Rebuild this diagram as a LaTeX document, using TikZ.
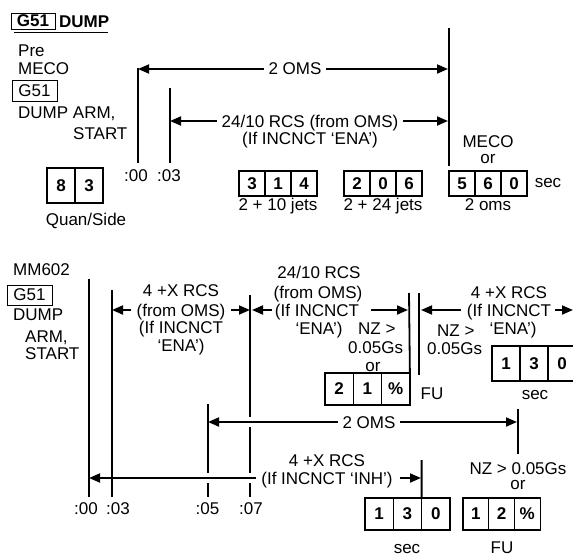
\documentclass[tikz,border=0pt]{standalone}
\usepackage{fontspec}
\setmainfont{Liberation Sans}
\usetikzlibrary{arrows.meta}
\begin{document}
\begin{tikzpicture}[x=1pt,y=-1pt,
  lbl/.style={font=\fontsize{17}{18}\selectfont, inner sep=0pt, anchor=base},
  lbll/.style={lbl, anchor=base west},
  vln/.style={line width=1.8pt},
  tip/.tip={Triangle[length=11pt,width=9pt]},
  arw/.style={line width=1.8pt, -tip},
  dbl/.style={line width=1.8pt, tip-tip},
  cellbox/.style={draw, line width=1.2pt, inner sep=0pt, outer sep=0pt, font=\fontsize{17}{18}\selectfont\bfseries},
  cA/.style={cellbox, minimum width=28pt, minimum height=35pt},
  cB/.style={cellbox, minimum width=26pt, minimum height=25pt},
  cC/.style={cellbox, minimum width=28.3pt, minimum height=32pt},
  cD/.style={cellbox, minimum width=25.7pt, minimum height=32pt},
  gbox/.style={draw, line width=1pt, inner sep=0pt, outer sep=0pt, font=\fontsize{17}{18}\selectfont},
]
\useasboundingbox (0,0) rectangle (573,557);

% ================= TOP PART =================
\node[gbox, font=\fontsize{17}{18}\selectfont\bfseries, minimum width=44pt, minimum height=16pt] (g1) at (33,21) {G51};
\node[lbll, font=\fontsize{17}{18}\selectfont\bfseries] (dump1) at (59,27) {DUMP};
\coordinate (ul1) at (14,32); \coordinate (ul2) at (108,32);
\draw[line width=1pt] (ul1) -- (ul2);
\node[lbll] (pre) at (18,56) {Pre};
\node[lbll] (meco1) at (18,74) {MECO};
\node[gbox, minimum width=45pt, minimum height=21pt] (g2) at (34.5,90.5) {G51};
\node[lbll] (dumparm) at (18,118) {DUMP ARM,};
\node[lbll] (start1) at (73,139) {START};

% vertical lines
\coordinate (t00a) at (138,68);  \coordinate (t00b) at (138,163);
\coordinate (t03a) at (170,88);  \coordinate (t03b) at (170,163);
\coordinate (tMa) at (449,28);   \coordinate (tMb) at (449,166);
\draw[vln] (t00a) -- (t00b);
\draw[vln] (t03a) -- (t03b);
\draw[vln] (tMa) -- (tMb);
\node[lbl] (l00) at (136,181) {:00};
\node[lbl] (l03) at (169,181) {:03};

% arrows
\coordinate (oA) at (138,69); \coordinate (oB) at (448,69);
\draw[dbl] (oA) -- (oB);
\node[lbl, anchor=center, fill=white, inner xsep=5pt, inner ysep=2pt] (oms1) at (295,69) {2 OMS};
\coordinate (rA) at (170,121); \coordinate (rB) at (448,121);
\draw[dbl] (rA) -- (rB);
\node[lbl, fill=white, inner xsep=5pt, inner ysep=1pt] (rcs1) at (310,127) {24/10 RCS (from OMS)};
\node[lbl] (ifena1) at (310,144) {(If INCNCT ‘ENA’)};

\node[lbl] (meco2) at (488,147) {MECO};
\node[lbl] (or1) at (488,163) {or};

% boxes
\node[cA, anchor=north west] (b83a) at (47,168) {8};
\node[cA, anchor=west] (b83b) at (b83a.east) {3};
\node[lbl] (quan) at (86,225) {Quan/Side};

\node[cB, anchor=north west] (b314a) at (239,171) {3};
\node[cB, anchor=west] (b314b) at (b314a.east) {1};
\node[cB, anchor=west] (b314c) at (b314b.east) {4};
\node[lbl] (j10) at (278,210) {2 + 10 jets};

\node[cB, anchor=north west] (b206a) at (344,171) {2};
\node[cB, anchor=west] (b206b) at (b206a.east) {0};
\node[cB, anchor=west] (b206c) at (b206b.east) {6};
\node[lbl] (j24) at (383,210) {2 + 24 jets};

\node[cB, anchor=north west] (b560a) at (449,171) {5};
\node[cB, anchor=west] (b560b) at (b560a.east) {6};
\node[cB, anchor=west] (b560c) at (b560b.east) {0};
\node[lbl] (oms2) at (488,210) {2 oms};
\node[lbl] (sec1) at (548,187.5) {sec};

% ================= BOTTOM PART =================
\node[lbll] (mm602) at (13,275) {MM602};
\node[lbll] (dump2) at (13,320) {DUMP};
\node[gbox, fill=white, minimum width=45pt, minimum height=20pt] (g3) at (29.5,295) {G51};
\node[lbll] (arm2) at (25,342) {ARM,};
\node[lbll] (start2) at (25,359) {START};

% vertical time lines
\coordinate (b00a) at (89,279);  \coordinate (b00b) at (89,497);
\coordinate (b03a) at (112,290); \coordinate (b03b) at (112,497);
\coordinate (b05a) at (208,404); \coordinate (b05g1) at (208,473); \coordinate (b05g2) at (208,483); \coordinate (b05b) at (208,497);
\coordinate (b07a) at (250,295); \coordinate (b07g1) at (250,417); \coordinate (b07g2) at (250,427);
\coordinate (b07g3) at (250,473); \coordinate (b07g4) at (250,483); \coordinate (b07b) at (250,497);
\draw[vln] (b00a) -- (b00b);
\draw[vln] (b03a) -- (b03b);
\draw[vln] (b05a) -- (b05g1) (b05g2) -- (b05b);
\draw[vln] (b07a) -- (b07g1) (b07g2) -- (b07g3) (b07g4) -- (b07b);
\node[lbl] (m00) at (86,514) {:00};
\node[lbl] (m03) at (118,514) {:03};
\node[lbl] (m05) at (207.5,514) {:05};
\node[lbl] (m07) at (251,514) {:07};

% 4 +X RCS (from OMS)
\node[lbl] (x1a) at (181,296) {4 +X RCS};
\node[lbl] (x1b) at (181,316) {(from OMS)};
\node[lbl] (x1c) at (181,333) {(If INCNCT};
\node[lbl] (x1d) at (181,351) {‘ENA’)};
\coordinate (x1L) at (131,310); \coordinate (x1Lt) at (112,310);
\coordinate (x1R) at (231,310); \coordinate (x1Rt) at (250,310);
\draw[arw] (x1L) -- (x1Lt);
\draw[arw] (x1R) -- (x1Rt);

% 24/10 RCS
\node[lbl] (y1a) at (319,278) {24/10 RCS};
\node[lbl] (y1b) at (318,298) {(from OMS)};
\node[lbl] (y1c) at (317,316) {(If INCNCT};
\node[lbl] (y1d) at (319,334) {‘ENA’)};
\coordinate (y1L) at (272,310); \coordinate (y1Lt) at (252,310);
\coordinate (y1R) at (371,310); \coordinate (y1Rt) at (408,310);
\draw[arw] (y1L) -- (y1Lt);
\draw[arw] (y1R) -- (y1Rt);

% double line
\coordinate (d1a) at (409,293); \coordinate (d2a) at (419,293); \coordinate (d2b) at (419,375);
\draw[vln] (d2a) -- (d2b);

% NZ left
\node[lbll] (nz1) at (358,334) {NZ >};
\node[lbll] (g005a) at (348,353) {0.05Gs};
\node[lbl] (or2) at (373,371.5) {or};

% 2 1 % box
\node[cC, anchor=north west] (p21a) at (325,373) {2};
\node[cC, anchor=west] (p21b) at (p21a.east) {1};
\node[cC, anchor=west] (p21c) at (p21b.east) {\%};
\draw[vln] (d1a) -- (p21c.north east);
\node[lbl] (fu1) at (432,399) {FU};

% NZ right
\node[lbll] (nz2) at (437,336) {NZ >};
\node[lbll] (g005b) at (427,354) {0.05Gs};

% 4 +X RCS right
\node[lbl] (z1a) at (509,298) {4 +X RCS};
\node[lbl] (z1b) at (509,316) {(If INCNCT};
\node[lbl] (z1c) at (513,334) {‘ENA’)};
\coordinate (z1L) at (461,310); \coordinate (z1Lt) at (421,310);
\coordinate (z1R) at (555,310); \coordinate (z1Rt) at (573,310);
\draw[arw] (z1L) -- (z1Lt);
\draw[arw] (z1R) -- (z1Rt);

% 1 3 0 right
\node[cA, anchor=north west] (r13a) at (492,346) {1};
\node[cA, anchor=west] (r13b) at (r13a.east) {3};
\node[cA, anchor=west] (r13c) at (r13b.east) {0};
\node[lbl] (sec2) at (535,399.5) {sec};

% 2 OMS bottom
\coordinate (o2L) at (208,422); \coordinate (o2R) at (517,422);
\draw[dbl] (o2L) -- (o2R);
\node[lbl, anchor=center, fill=white, inner xsep=5pt, inner ysep=2pt] (oms3) at (369,423) {2 OMS};
\coordinate (nzla) at (518,409); \coordinate (nzlb) at (518,454);
\draw[vln] (nzla) -- (nzlb);
\node[lbl] (nz3) at (518,474) {NZ > 0.05Gs};
\node[lbl] (or3) at (518,489.5) {or};

% 4 +X RCS (INH)
\node[lbl] (w1a) at (327,466) {4 +X RCS};
\node[lbl] (w1b) at (327,484) {(If INCNCT ‘INH’)};
\coordinate (w1L) at (256,478); \coordinate (w1Lt) at (89,478);
\coordinate (w1R) at (400,478); \coordinate (w1Rt) at (421,478);
\draw[arw] (w1L) -- (w1Lt);
\draw[arw] (w1R) -- (w1Rt);

% bottom boxes
\node[cC, anchor=north west] (q13a) at (365,498) {1};
\node[cC, anchor=west] (q13b) at (q13a.east) {3};
\node[cC, anchor=west] (q13c) at (q13b.east) {0};
\coordinate (qla) at (421.6,460);
\draw[vln] (qla) -- (q13c.north west);
\node[lbl] (sec3) at (407,553) {sec};

\node[cD, anchor=north west] (f12a) at (463,498) {1};
\node[cD, anchor=west] (f12b) at (f12a.east) {2};
\node[cD, anchor=west] (f12c) at (f12b.east) {\%};
\node[lbl] (fu2) at (502,553) {FU};

\end{tikzpicture}
\end{document}
